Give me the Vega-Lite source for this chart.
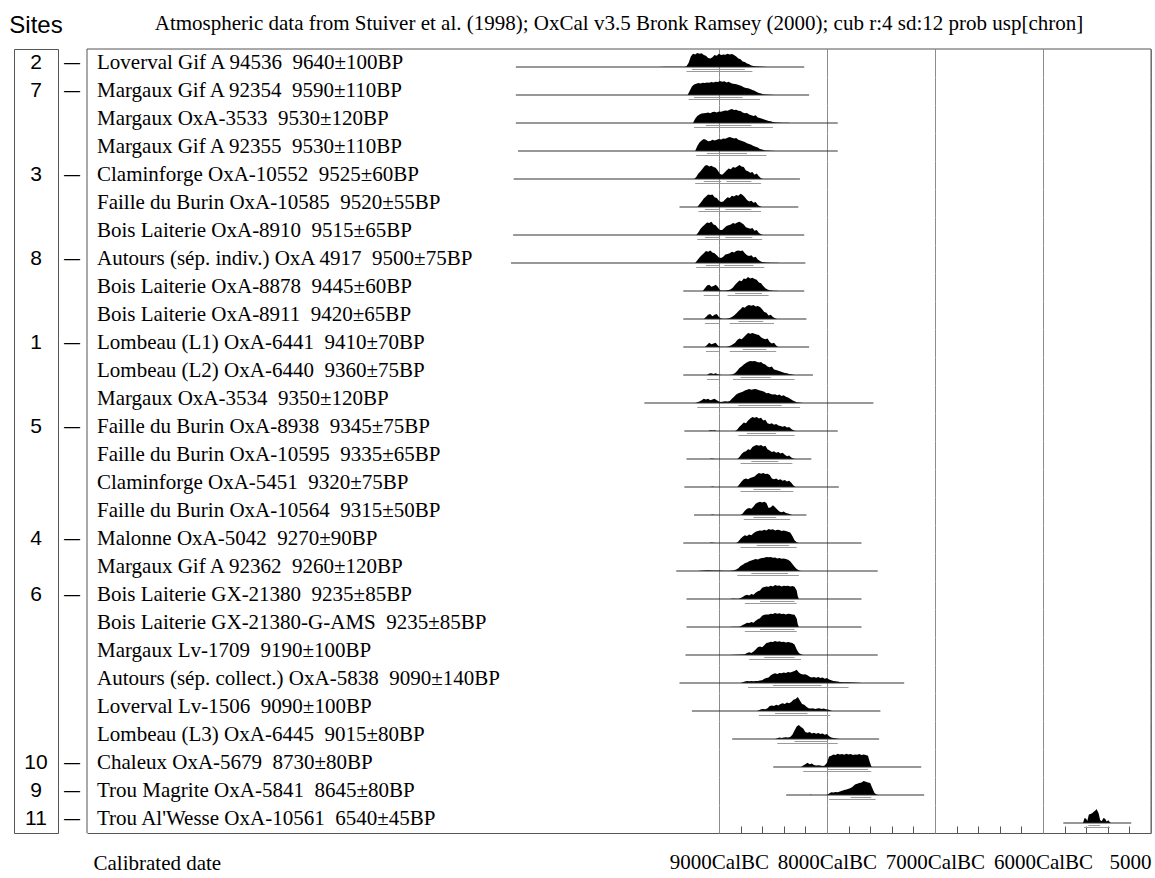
{
  "$schema": "https://vega.github.io/schema/vega-lite/v6.json",
  "background": "white",
  "padding": {"left": 8, "top": 12, "right": 0, "bottom": 0},
  "config": {"view": {"stroke": null}},
  "datasets": {
    "rows": [
      {"id":1,"site":"2","label":["Loverval Gif A 94536 \u00a09640±100BP"],"l0":[10880],"l1":[8210],
       "bc":[9560,9500,9400,9320,9300,9280,9260,9240,9220,9200,9180,9160,9140,9120,9100,9080,9060,9040,9020,9000,8980,8960,8940,8920,8900,8880,8860,8840,8820,8800,8780,8760,8740,8720,8700,8680,8660,8620,8580,8550],
       "p":[0,0.02,0.02,0.02,0.05,0.3,0.75,0.95,0.9,1,0.95,0.98,0.85,0.8,0.65,0.6,0.7,0.85,0.8,0.95,0.85,0.9,0.88,0.95,0.9,0.92,0.85,0.75,0.6,0.55,0.4,0.35,0.25,0.2,0.1,0.08,0.05,0.03,0.01,0],
       "a0":[9250],"a1":[8760],"b0":[9300],"b1":[8690]},
      {"id":2,"site":"7","label":["Margaux Gif A 92354 \u00a09590±110BP"],"l0":[10880],"l1":[8165],
       "bc":[9290,9270,9250,9230,9210,9190,9170,9150,9130,9110,9090,9070,9050,9030,9010,8990,8970,8950,8930,8910,8890,8870,8850,8830,8810,8790,8770,8750,8730,8710,8690,8670,8650,8630,8610,8590,8560,8520,8480],
       "p":[0,0.3,0.6,0.75,0.8,0.85,0.82,0.88,0.85,0.9,0.88,0.92,0.9,0.95,0.92,1,0.95,0.98,0.9,0.95,0.85,0.8,0.78,0.75,0.7,0.65,0.55,0.5,0.48,0.42,0.35,0.3,0.22,0.15,0.1,0.06,0.03,0.02,0],
       "a0":[9230],"a1":[8780],"b0":[9280],"b1":[8620]},
      {"id":3,"site":"","label":["Margaux OxA-3533 \u00a09530±120BP"],"l0":[10880],"l1":[7900],
       "bc":[9240,9220,9200,9180,9160,9140,9120,9100,9080,9060,9040,9020,9000,8980,8960,8940,8920,8900,8880,8860,8840,8820,8800,8780,8760,8740,8720,8700,8680,8660,8640,8620,8600,8580,8560,8540,8520,8500,8480,8460,8440,8420,8400,8380,8360,8340],
       "p":[0,0.3,0.5,0.6,0.68,0.7,0.72,0.75,0.7,0.78,0.8,0.75,0.82,0.8,0.85,0.9,0.88,0.95,1,0.92,0.95,0.88,0.85,0.75,0.7,0.72,0.6,0.55,0.5,0.55,0.4,0.35,0.3,0.25,0.2,0.15,0.12,0.08,0.05,0.04,0.03,0.02,0.02,0.01,0.01,0],
       "a0":[9120],"a1":[8700],"b0":[9230],"b1":[8500]},
      {"id":4,"site":"","label":["Margaux Gif A 92355 \u00a09530±110BP"],"l0":[10860],"l1":[7900],
       "bc":[9220,9200,9180,9160,9140,9120,9100,9080,9060,9040,9020,9000,8980,8960,8940,8920,8900,8880,8860,8840,8820,8800,8780,8760,8740,8720,8700,8680,8660,8640,8620,8600,8580,8560,8540,8520,8500,8480],
       "p":[0,0.35,0.6,0.75,0.85,0.8,0.7,0.72,0.8,0.75,0.8,0.85,0.82,0.9,0.88,0.95,1,0.95,0.9,0.92,0.8,0.75,0.7,0.65,0.55,0.5,0.45,0.35,0.3,0.25,0.15,0.1,0.06,0.04,0.03,0.02,0.01,0],
       "a0":[9110],"a1":[8740],"b0":[9210],"b1":[8560]},
      {"id":5,"site":"3","label":["Claminforge OxA-10552 \u00a09525±60BP"],"l0":[10900],"l1":[8250],
       "bc":[9230,9210,9190,9170,9150,9130,9110,9090,9070,9050,9030,9010,8990,8970,8950,8930,8910,8890,8870,8850,8830,8810,8790,8770,8750,8730,8710,8690,8670,8650,8630,8610,8590],
       "p":[0,0.15,0.4,0.55,0.75,0.95,1,0.9,0.95,0.85,0.8,0.6,0.35,0.3,0.45,0.6,0.75,0.7,0.85,0.8,0.9,1,0.9,0.85,0.6,0.55,0.45,0.5,0.3,0.4,0.2,0.05,0],
       "a0":[9140,8930],"a1":[8980,8700],"b0":[9220],"b1":[8610]},
      {"id":6,"site":"","label":["Faille du Burin OxA-10585 \u00a09520±55BP"],"l0":[9365],"l1":[8265],
       "bc":[9200,9180,9160,9140,9120,9100,9080,9060,9040,9020,9000,8980,8960,8940,8920,8900,8880,8860,8840,8820,8800,8780,8760,8740,8720,8700,8680,8660,8640,8620,8600],
       "p":[0,0.2,0.4,0.6,0.75,0.9,0.85,0.9,0.7,0.65,0.45,0.35,0.4,0.55,0.7,0.65,0.8,0.75,0.85,0.8,0.95,0.85,0.7,0.5,0.4,0.45,0.3,0.35,0.15,0.05,0],
       "a0":[9130,8940],"a1":[8990,8700],"b0":[9190],"b1":[8610]},
      {"id":7,"site":"","label":["Bois Laiterie OxA-8910 \u00a09515±65BP"],"l0":[10905],"l1":[8210],
       "bc":[9210,9190,9170,9150,9130,9110,9090,9070,9050,9030,9010,8990,8970,8950,8930,8910,8890,8870,8850,8830,8810,8790,8770,8750,8730,8710,8690,8670,8650,8630,8610,8590],
       "p":[0,0.2,0.45,0.6,0.75,0.9,0.85,0.95,0.75,0.7,0.5,0.35,0.35,0.5,0.65,0.7,0.75,0.85,0.8,0.9,0.95,0.85,0.75,0.55,0.5,0.45,0.5,0.3,0.35,0.15,0.05,0],
       "a0":[9130,8940],"a1":[8990,8690],"b0":[9200],"b1":[8600]},
      {"id":8,"site":"8","label":["Autours (sép. indiv.) OxA 4917 \u00a09500±75BP"],"l0":[10925],"l1":[8200],
       "bc":[9220,9200,9180,9160,9140,9120,9100,9080,9060,9040,9020,9000,8980,8960,8940,8920,8900,8880,8860,8840,8820,8800,8780,8760,8740,8720,8700,8680,8660,8640,8620,8600,8580,8560,8540,8520,8500,8480,8460,8440],
       "p":[0,0.2,0.4,0.55,0.7,0.85,0.8,0.9,0.75,0.7,0.55,0.4,0.35,0.45,0.6,0.65,0.7,0.8,0.75,0.85,0.9,0.85,0.9,0.7,0.55,0.5,0.55,0.4,0.45,0.25,0.15,0.08,0.05,0.04,0.03,0.02,0.02,0.02,0.01,0],
       "a0":[9120,8950],"a1":[8990,8680],"b0":[9210],"b1":[8580]},
      {"id":9,"site":"","label":["Bois Laiterie OxA-8878 \u00a09445±60BP"],"l0":[9330],"l1":[8210],
       "bc":[9150,9130,9110,9090,9070,9050,9030,9010,8990,8970,8950,8930,8910,8890,8870,8850,8830,8810,8790,8770,8750,8730,8710,8690,8670,8650,8630,8610,8590,8570,8550,8530,8510,8490,8470,8450],
       "p":[0,0.2,0.4,0.45,0.3,0.35,0.45,0.3,0.05,0.03,0.03,0.05,0.08,0.12,0.25,0.45,0.6,0.75,0.7,0.9,0.85,1,0.9,0.95,0.85,0.8,0.6,0.55,0.35,0.2,0.1,0.05,0.03,0.02,0.01,0],
       "a0":[8850],"a1":[8600],"b0":[9140,8920],"b1":[8990,8540]},
      {"id":10,"site":"","label":["Bois Laiterie OxA-8911 \u00a09420±65BP"],"l0":[9330],"l1":[8190],
       "bc":[9140,9120,9100,9080,9060,9040,9020,9000,8980,8960,8940,8920,8900,8880,8860,8840,8820,8800,8780,8760,8740,8720,8700,8680,8660,8640,8620,8600,8580,8560,8540,8520,8500,8480,8460],
       "p":[0,0.15,0.3,0.35,0.2,0.3,0.35,0.15,0.03,0.02,0.02,0.04,0.08,0.15,0.25,0.4,0.55,0.7,0.85,0.8,0.95,1,0.95,1,0.9,0.92,0.85,0.7,0.5,0.45,0.25,0.3,0.15,0.05,0],
       "a0":[8820],"a1":[8590],"b0":[9130,8900],"b1":[8990,8490]},
      {"id":11,"site":"1","label":["Lombeau (L1) OxA-6441 \u00a09410±70BP"],"l0":[9330],"l1":[8165],
       "bc":[9130,9110,9090,9070,9050,9030,9010,8990,8970,8950,8930,8910,8890,8870,8850,8830,8810,8790,8770,8750,8730,8710,8690,8670,8650,8630,8610,8590,8570,8550,8530,8510,8490,8470,8450],
       "p":[0,0.15,0.3,0.2,0.25,0.3,0.1,0.02,0.01,0.01,0.02,0.05,0.1,0.2,0.3,0.5,0.6,0.55,0.7,0.85,1,0.95,1,0.95,0.9,0.85,0.7,0.6,0.55,0.6,0.35,0.25,0.3,0.1,0],
       "a0":[8780],"a1":[8560],"b0":[9120,8900],"b1":[9000,8470]},
      {"id":12,"site":"","label":["Lombeau (L2) OxA-6440 \u00a09360±75BP"],"l0":[9330],"l1":[8130],
       "bc":[9110,9090,9070,9050,9030,9010,8990,8970,8950,8930,8910,8890,8870,8850,8830,8810,8790,8770,8750,8730,8710,8690,8670,8650,8630,8610,8590,8570,8550,8530,8510,8490,8470,8450,8430,8410,8390,8370,8350,8330,8310,8290],
       "p":[0,0.1,0.12,0.08,0.12,0.05,0.01,0,0,0,0,0.01,0.05,0.15,0.3,0.5,0.6,0.75,0.85,0.95,1,0.98,1,0.95,0.9,0.92,0.8,0.75,0.6,0.55,0.6,0.4,0.35,0.3,0.25,0.2,0.15,0.12,0.08,0.05,0.02,0],
       "a0":[8800],"a1":[8520],"b0":[9110,8870],"b1":[9000,8300]},
      {"id":13,"site":"","label":["Margaux OxA-3534 \u00a09350±120BP"],"l0":[9690],"l1":[7570],
       "bc":[9220,9200,9180,9160,9140,9120,9100,9080,9060,9040,9020,9000,8980,8960,8940,8920,8900,8880,8860,8840,8820,8800,8780,8760,8740,8720,8700,8680,8660,8640,8620,8600,8580,8560,8540,8520,8500,8480,8460,8440,8420,8400,8380,8360,8340,8320,8300,8280,8260,8240,8220],
       "p":[0,0.05,0.1,0.2,0.3,0.25,0.3,0.2,0.25,0.3,0.2,0.1,0.08,0.1,0.12,0.1,0.15,0.3,0.45,0.6,0.7,0.75,0.8,0.9,0.95,1,0.95,0.98,1,0.95,0.9,0.85,0.8,0.7,0.72,0.65,0.6,0.62,0.55,0.6,0.5,0.55,0.45,0.4,0.3,0.2,0.12,0.06,0.03,0.01,0],
       "a0":[8820],"a1":[8420],"b0":[9200],"b1":[8250]},
      {"id":14,"site":"5","label":["Faille du Burin OxA-8938 \u00a09345±75BP"],"l0":[9320],"l1":[7900],
       "bc":[9100,9080,9060,9040,9020,8850,8830,8810,8790,8770,8750,8730,8710,8690,8670,8650,8630,8610,8590,8570,8550,8530,8510,8490,8470,8450,8430,8410,8390,8370,8350,8330,8310,8290],
       "p":[0,0.05,0.03,0.05,0,0,0.1,0.3,0.45,0.6,0.55,0.75,0.9,1,0.95,1,0.9,0.95,0.75,0.8,0.55,0.5,0.55,0.45,0.5,0.4,0.35,0.3,0.35,0.25,0.28,0.15,0.05,0],
       "a0":[8740],"a1":[8470],"b0":[8820],"b1":[8300]},
      {"id":15,"site":"","label":["Faille du Burin OxA-10595 \u00a09335±65BP"],"l0":[9300],"l1":[8145],
       "bc":[9090,9070,9050,9030,8830,8810,8790,8770,8750,8730,8710,8690,8670,8650,8630,8610,8590,8570,8550,8530,8510,8490,8470,8450,8430,8410,8390,8370,8350,8330,8310,8290],
       "p":[0,0.04,0.02,0,0,0.15,0.35,0.5,0.55,0.7,0.65,0.85,0.95,1,0.95,1,0.9,0.95,0.7,0.6,0.5,0.55,0.45,0.5,0.4,0.45,0.3,0.2,0.25,0.1,0.03,0],
       "a0":[8700],"a1":[8450],"b0":[8800],"b1":[8320]},
      {"id":16,"site":"","label":["Claminforge OxA-5451 \u00a09320±75BP"],"l0":[9320],"l1":[7890],
       "bc":[9080,9060,9040,8830,8810,8790,8770,8750,8730,8710,8690,8670,8650,8630,8610,8590,8570,8550,8530,8510,8490,8470,8450,8430,8410,8390,8370,8350,8330,8310,8290],
       "p":[0,0.03,0,0,0.2,0.4,0.55,0.6,0.55,0.65,0.7,0.75,0.9,1,0.95,1,0.92,0.95,0.85,0.6,0.55,0.6,0.5,0.55,0.45,0.5,0.4,0.45,0.3,0.1,0],
       "a0":[8680],"a1":[8430],"b0":[8800],"b1":[8310]},
      {"id":17,"site":"","label":["Faille du Burin OxA-10564 \u00a09315±50BP"],"l0":[9230],"l1":[8190],
       "bc":[9080,9060,9040,8800,8780,8760,8740,8720,8700,8680,8660,8640,8620,8600,8580,8560,8540,8520,8500,8480,8460,8440,8420,8400,8380,8360,8340,8320],
       "p":[0,0.03,0,0,0.1,0.3,0.45,0.5,0.45,0.6,0.8,0.9,0.95,0.9,0.95,0.85,0.5,0.55,0.7,0.55,0.4,0.25,0.2,0.25,0.15,0.1,0.05,0],
       "a0":[8680],"a1":[8470],"b0":[8770],"b1":[8340]},
      {"id":18,"site":"4","label":["Malonne OxA-5042 \u00a09270±90BP"],"l0":[9330],"l1":[7680],
       "bc":[9090,9070,9050,9030,8840,8820,8800,8780,8760,8740,8720,8700,8680,8660,8640,8620,8600,8580,8560,8540,8520,8500,8480,8460,8440,8420,8400,8380,8360,8340,8320,8300,8280,8260],
       "p":[0,0.03,0.02,0,0,0.1,0.3,0.45,0.55,0.5,0.6,0.55,0.7,0.8,0.85,0.9,0.88,0.95,0.9,1,0.95,0.98,0.9,0.95,0.92,0.85,0.9,0.85,0.8,0.75,0.5,0.2,0.05,0],
       "a0":[8650],"a1":[8350],"b0":[8800],"b1":[8280]},
      {"id":19,"site":"","label":["Margaux Gif A 92362 \u00a09260±120BP"],"l0":[9395],"l1":[7530],
       "bc":[9200,9150,9100,9050,9000,8950,8900,8860,8840,8820,8800,8780,8760,8740,8720,8700,8680,8660,8640,8620,8600,8580,8560,8540,8520,8500,8480,8460,8440,8420,8400,8380,8360,8340,8320,8300,8280,8260,8240],
       "p":[0,0.03,0.05,0.04,0.03,0.02,0.02,0.05,0.1,0.2,0.35,0.45,0.55,0.6,0.7,0.75,0.8,0.85,0.82,0.9,0.92,0.95,1,0.98,1,0.95,0.97,0.9,0.92,0.88,0.9,0.85,0.8,0.7,0.5,0.3,0.15,0.05,0],
       "a0":[8700],"a1":[8360],"b0":[8830],"b1":[8260]},
      {"id":20,"site":"6","label":["Bois Laiterie GX-21380 \u00a09235±85BP"],"l0":[9300],"l1":[7680],
       "bc":[8900,8870,8840,8820,8800,8780,8760,8740,8720,8700,8680,8660,8640,8620,8600,8580,8560,8540,8520,8500,8480,8460,8440,8420,8400,8380,8360,8340,8320,8300,8280,8270,8260],
       "p":[0,0.03,0.02,0.02,0.08,0.15,0.25,0.3,0.25,0.35,0.3,0.45,0.55,0.6,0.8,0.85,0.9,0.88,0.95,0.9,1,0.95,0.97,0.9,0.95,0.92,0.95,0.9,0.92,0.88,0.6,0.2,0],
       "a0":[8620],"a1":[8300],"b0":[8760],"b1":[8280]},
      {"id":21,"site":"","label":["Bois Laiterie GX-21380-G-AMS \u00a09235±85BP"],"l0":[9300],"l1":[7680],
       "bc":[8900,8870,8840,8820,8800,8780,8760,8740,8720,8700,8680,8660,8640,8620,8600,8580,8560,8540,8520,8500,8480,8460,8440,8420,8400,8380,8360,8340,8320,8300,8280,8270,8260],
       "p":[0,0.02,0.02,0.02,0.06,0.15,0.22,0.3,0.28,0.35,0.3,0.45,0.55,0.62,0.8,0.88,0.9,0.9,0.95,0.92,1,0.95,0.98,0.92,0.95,0.9,0.95,0.92,0.9,0.88,0.6,0.2,0],
       "a0":[8620],"a1":[8300],"b0":[8760],"b1":[8280]},
      {"id":22,"site":"","label":["Margaux Lv-1709 \u00a09190±100BP"],"l0":[9310],"l1":[7530],
       "bc":[8900,8860,8800,8760,8740,8720,8700,8680,8660,8640,8620,8600,8580,8560,8540,8520,8500,8480,8460,8440,8420,8400,8380,8360,8340,8320,8300,8280,8260,8240,8220],
       "p":[0,0.02,0.03,0.05,0.15,0.2,0.15,0.25,0.4,0.55,0.6,0.55,0.7,0.85,0.9,0.95,0.92,1,0.95,0.98,0.92,0.95,0.9,0.92,0.9,0.85,0.75,0.4,0.15,0.05,0],
       "a0":[8580],"a1":[8300],"b0":[8720],"b1":[8240]},
      {"id":23,"site":"","label":["Autours (sép. collect.) OxA-5838 \u00a09090±140BP"],"l0":[9365],"l1":[7285],
       "bc":[8800,8780,8760,8740,8720,8700,8680,8660,8640,8620,8600,8580,8560,8540,8520,8500,8480,8460,8440,8420,8400,8380,8360,8340,8320,8300,8280,8260,8240,8220,8200,8180,8160,8140,8120,8100,8080,8060,8040,8020,8000,7980,7960,7940,7920,7900,7880,7850,7800,7750,7700,7680],
       "p":[0,0.05,0.1,0.15,0.12,0.15,0.12,0.15,0.15,0.18,0.2,0.3,0.35,0.4,0.55,0.65,0.7,0.65,0.72,0.7,0.75,0.72,0.78,0.75,0.8,0.85,0.95,0.75,0.65,0.6,0.62,0.55,0.45,0.4,0.42,0.38,0.42,0.35,0.4,0.3,0.35,0.25,0.2,0.15,0.12,0.1,0.08,0.06,0.05,0.03,0.02,0],
       "a0":[8500],"a1":[8050],"b0":[8730],"b1":[7800]},
      {"id":24,"site":"","label":["Loverval Lv-1506 \u00a09090±100BP"],"l0":[9250],"l1":[7505],
       "bc":[8650,8630,8610,8590,8570,8550,8530,8510,8490,8470,8450,8430,8410,8390,8370,8350,8330,8310,8290,8270,8250,8230,8210,8190,8170,8150,8130,8110,8090,8070,8050,8030,8010,7990,7970,7950],
       "p":[0,0.05,0.12,0.15,0.12,0.2,0.35,0.4,0.35,0.45,0.4,0.5,0.55,0.5,0.6,0.55,0.65,0.8,0.85,1,0.75,0.5,0.45,0.3,0.2,0.18,0.2,0.15,0.18,0.2,0.15,0.18,0.12,0.1,0.05,0],
       "a0":[8480],"a1":[8180],"b0":[8630],"b1":[7970]},
      {"id":25,"site":"","label":["Lombeau (L3) OxA-6445 \u00a09015±80BP"],"l0":[8877],"l1":[7517],
       "bc":[8480,8460,8440,8420,8400,8380,8360,8340,8320,8300,8280,8260,8240,8220,8200,8180,8160,8140,8120,8100,8080,8060,8040,8020,8000,7980,7960,7940,7920,7900,7880],
       "p":[0,0.05,0.1,0.08,0.1,0.12,0.1,0.15,0.3,0.6,0.9,1,0.85,0.75,0.5,0.45,0.5,0.4,0.45,0.38,0.42,0.35,0.4,0.3,0.35,0.2,0.1,0.08,0.05,0.02,0],
       "a0":[8300],"a1":[8000],"b0":[8460],"b1":[7900]},
      {"id":26,"site":"10","label":["Chaleux OxA-5679 \u00a08730±80BP"],"l0":[8497],"l1":[7127],
       "bc":[8240,8220,8200,8180,8160,8140,8120,8100,8080,8060,8040,8020,8000,7980,7960,7940,7920,7900,7880,7860,7840,7820,7800,7780,7760,7740,7720,7700,7680,7660,7640,7620,7605,7590,7580],
       "p":[0,0.1,0.2,0.3,0.2,0.25,0.15,0.1,0.12,0.1,0.08,0.1,0.3,0.75,0.8,0.9,0.85,0.95,0.9,0.92,0.88,0.95,0.9,0.92,0.85,0.9,0.88,0.92,0.85,0.9,0.85,0.8,0.4,0.05,0],
       "a0":[7990],"a1":[7620],"b0":[8220],"b1":[7590]},
      {"id":27,"site":"9","label":["Trou Magrite OxA-5841 \u00a08645±80BP"],"l0":[8377],"l1":[7100],
       "bc":[8160,8150,8140,8000,7980,7960,7940,7920,7900,7880,7860,7840,7820,7800,7780,7760,7740,7720,7700,7680,7660,7640,7620,7600,7580,7560,7540,7520],
       "p":[0,0.04,0,0,0.1,0.2,0.18,0.22,0.2,0.25,0.3,0.35,0.4,0.45,0.5,0.6,0.75,0.8,0.85,0.9,1,0.95,0.9,0.85,0.5,0.15,0.03,0],
       "a0":[7780],"a1":[7590],"b0":[7980],"b1":[7550]},
      {"id":28,"site":"11","label":["Trou Al'Wesse OxA-10561 \u00a06540±45BP"],"l0":[5812],"l1":[5183],
       "bc":[5630,5615,5600,5590,5575,5560,5545,5530,5515,5505,5495,5485,5470,5455,5440,5425,5410,5395,5380,5370],
       "p":[0,0.35,0.3,0.15,0.6,0.65,0.7,0.8,0.9,1,0.85,0.7,0.2,0.15,0.35,0.3,0.1,0.2,0.05,0],
       "a0":[5580],"a1":[5470],"b0":[5620],"b1":[5380]}
    ]
  },
  "hconcat": [
    {
      "data": {"name": "rows"},
      "width": 44,
      "height": 784,
      "view": {"stroke": "#555555", "strokeWidth": 1},
      "title": {"text": "Sites", "font": "Liberation Sans", "fontSize": 24, "fontWeight": "normal", "color": "black", "anchor": "middle", "offset": 11},
      "layer": [
        {
          "mark": {"type": "text", "font": "Liberation Sans", "fontSize": 21, "color": "black", "align": "center", "baseline": "middle"},
          "encoding": {
            "x": {"datum": 0.5, "scale": {"domain": [0, 1]}, "axis": null},
            "y": {"field": "id", "type": "ordinal", "scale": {"domain": [1,2,3,4,5,6,7,8,9,10,11,12,13,14,15,16,17,18,19,20,21,22,23,24,25,26,27,28], "paddingInner": 0, "paddingOuter": 0}, "axis": null},
            "text": {"field": "site"}
          }
        },
        {
          "mark": {"type": "text", "font": "Liberation Sans", "fontSize": 16, "color": "black", "align": "center", "baseline": "middle", "dx": 14},
          "encoding": {
            "x": {"datum": 1},
            "y": {"field": "id", "type": "ordinal", "axis": null},
            "text": {"condition": {"test": "datum.site != ''", "value": "—"}, "value": ""}
          }
        }
      ]
    },
    {
      "data": {"name": "rows"},
      "transform": [{"flatten": ["bc", "p", "label", "l0", "l1", "a0", "a1", "b0", "b1"]}],
      "title": {"text": "Atmospheric data from Stuiver et al. (1998); OxCal v3.5 Bronk Ramsey (2000); cub r:4 sd:12 prob usp[chron]", "font": "Liberation Serif", "fontSize": 21, "fontWeight": "normal", "color": "black", "anchor": "middle", "offset": 15},
      "facet": {"row": {"field": "id", "type": "ordinal", "header": null}},
      "spacing": {"row": 0},
      "bounds": "flush",
      "spec": {
        "width": 1064,
        "height": 28,
        "layer": [
          {
            "mark": {"type": "area", "color": "black", "interpolate": "linear", "invalid": "filter"},
            "encoding": {
              "x": {
                "field": "bc", "type": "quantitative",
                "scale": {"domain": [5000, 14850], "reverse": true, "nice": false, "zero": false},
                "axis": {
                  "values": [9000,8800,8600,8400,8200,8000,7800,7600,7400,7200,7000,6800,6600,6400,6200,6000,5800,5600,5400,5200,5000],
                  "labelExpr": "datum.value % 1000 == 0 ? (datum.value == 5000 ? '5000' : datum.value + 'CalBC') : ''",
                  "labelOverlap": false,
                  "labelFlush": false,
                  "labelAlign": {"condition": {"test": "datum.value == 5000", "value": "right"}, "value": "center"},
                  "labelFont": "Liberation Serif",
                  "labelFontSize": 21,
                  "labelColor": "black",
                  "labelBaseline": "middle",
                  "labelPadding": 36,
                  "grid": true,
                  "gridColor": "#8c8c8c",
                  "gridWidth": 1,
                  "gridOpacity": {"condition": {"test": "datum.value % 1000 == 0", "value": 1}, "value": 0},
                  "ticks": true,
                  "tickSize": -7,
                  "tickColor": "#555555",
                  "tickOpacity": {"condition": {"test": "datum.value % 1000 == 0", "value": 0}, "value": 1},
                  "domain": true,
                  "domainColor": "#555555",
                  "title": "Calibrated date",
                  "titleFont": "Liberation Serif",
                  "titleFontSize": 21,
                  "titleFontWeight": "normal",
                  "titleColor": "black",
                  "titleAnchor": "start",
                  "titleAlign": "left",
                  "titleBaseline": "middle",
                  "titleX": 6,
                  "titleY": 30
                }
              },
              "y": {"field": "p", "type": "quantitative", "scale": {"domain": [-0.714, 1.286], "nice": false, "zero": false}, "axis": null},
              "y2": {"datum": 0}
            }
          },
          {
            "mark": {"type": "rule", "color": "#333333", "strokeWidth": 1, "invalid": "filter"},
            "encoding": {
              "x": {"field": "l0", "type": "quantitative", "title": "Calibrated date"},
              "x2": {"field": "l1"},
              "y": {"datum": 0, "axis": null}
            }
          },
          {
            "mark": {"type": "rule", "color": "#9a9a9a", "strokeWidth": 1, "invalid": "filter"},
            "encoding": {
              "x": {"field": "a0", "type": "quantitative", "title": "Calibrated date"},
              "x2": {"field": "a1"},
              "y": {"datum": -0.178, "axis": null}
            }
          },
          {
            "mark": {"type": "rule", "color": "#9a9a9a", "strokeWidth": 1, "invalid": "filter"},
            "encoding": {
              "x": {"field": "b0", "type": "quantitative", "title": "Calibrated date"},
              "x2": {"field": "b1"},
              "y": {"datum": -0.321, "axis": null}
            }
          },
          {
            "mark": {"type": "text", "font": "Liberation Serif", "fontSize": 21, "color": "black", "align": "left", "baseline": "middle", "dx": 10},
            "encoding": {
              "x": {"datum": 14850},
              "y": {"datum": 0.286, "axis": null},
              "text": {"condition": {"test": "isValid(datum.label)", "field": "label", "type": "nominal"}, "value": ""}
            }
          },
          {
            "mark": {"type": "rule", "color": "#555555", "strokeWidth": 1},
            "encoding": {
              "x": {"datum": 14850},
              "opacity": {"condition": {"test": "isValid(datum.label)", "value": 1}, "value": 0}
            }
          },
          {
            "mark": {"type": "rule", "color": "#555555", "strokeWidth": 1},
            "encoding": {
              "x": {"datum": 5000},
              "opacity": {"condition": {"test": "isValid(datum.label)", "value": 1}, "value": 0}
            }
          },
          {
            "mark": {"type": "rule", "color": "#555555", "strokeWidth": 1},
            "encoding": {
              "y": {"datum": 1.286, "axis": null},
              "opacity": {"condition": {"test": "datum.id == 1 && isValid(datum.label)", "value": 1}, "value": 0}
            }
          }
        ]
      }
    }
  ],
  "spacing": 29,
  "bounds": "flush",
  "resolve": {"scale": {"x": "independent", "y": "independent"}}
}
